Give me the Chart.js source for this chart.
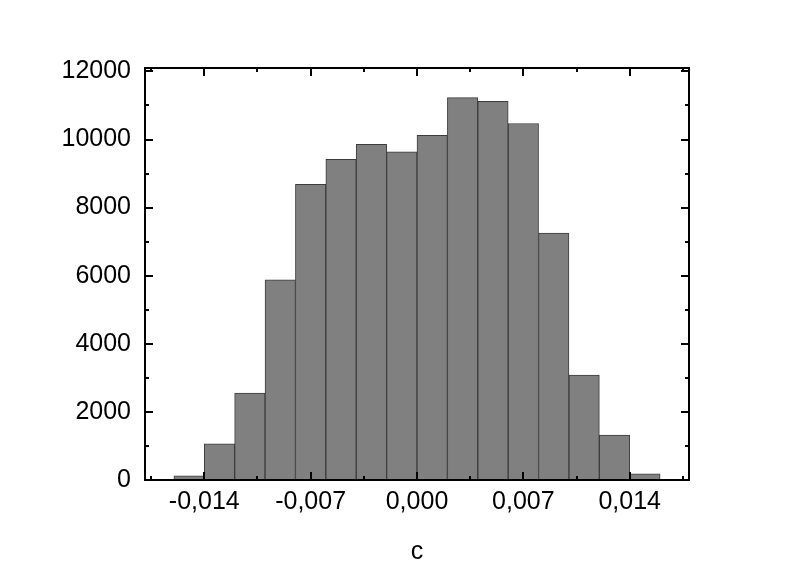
<!DOCTYPE html>
<html>
<head>
<meta charset="utf-8">
<script src="https://cdn.jsdelivr.net/npm/chart.js@4.4.1/dist/chart.umd.min.js"></script>
<style>
  html, body { margin: 0; padding: 0; background: #ffffff; }
  #wrap { width: 801px; height: 576px; }
</style>
</head>
<body>
<div id="wrap"><canvas id="c" width="801" height="576"></canvas></div>
<script>
// ---- data ----
const binCenters = [-0.015, -0.013, -0.011, -0.009, -0.007, -0.005, -0.003, -0.001,
                     0.001,  0.003,  0.005,  0.007,  0.009,  0.011,  0.013,  0.015];
const counts = [125, 1060, 2550, 5880, 8680, 9420, 9860, 9640,
                10120, 11230, 11120, 10470, 7250, 3080, 1320, 180];
const xMajorTicks = [-0.014, -0.007, 0.000, 0.007, 0.014];
const xMinorTicks = [-0.0175, -0.0105, -0.0035, 0.0035, 0.0105, 0.0175];
const yMajorTicks = [0, 2000, 4000, 6000, 8000, 10000, 12000];
const yMinorTicks = [1000, 3000, 5000, 7000, 9000, 11000];
const xTitle = 'c';

const FONT = { family: '"Liberation Sans", Arial, sans-serif', size: 25 };

const frameTicks = {
  id: 'frameTicks',
  afterDatasetsDraw(chart) {
    const { ctx, chartArea: { left, right, top, bottom }, scales: { x, y } } = chart;
    ctx.save();
    ctx.strokeStyle = '#000';
    ctx.lineWidth = 2;
    ctx.beginPath();
    const xt = (v, len) => {
      const p = Math.round(x.getPixelForValue(v));
      ctx.moveTo(p, bottom); ctx.lineTo(p, bottom - len);
      ctx.moveTo(p, top); ctx.lineTo(p, top + len);
    };
    const yt = (v, len) => {
      const p = Math.round(y.getPixelForValue(v));
      ctx.moveTo(left, p); ctx.lineTo(left + len, p);
      ctx.moveTo(right, p); ctx.lineTo(right - len, p);
    };
    xMajorTicks.forEach(v => xt(v, 8));
    xMinorTicks.forEach(v => xt(v, 4));
    yMajorTicks.forEach(v => yt(v, 8));
    yMinorTicks.forEach(v => yt(v, 4));
    ctx.stroke();
    ctx.strokeRect(left, top, right - left, bottom - top);
    ctx.restore();
  }
};

new Chart(document.getElementById('c'), {
  type: 'bar',
  data: {
    datasets: [{
      data: binCenters.map((b, i) => ({ x: b, y: counts[i] })),
      backgroundColor: '#808080',
      borderColor: '#3c3c3c',
      borderWidth: 1,
      barPercentage: 1.0,
      categoryPercentage: 1.0
    }]
  },
  options: {
    responsive: false,
    animation: false,
    events: [],
    layout: { padding: { left: 0, right: 112, top: 68, bottom: 0 } },
    plugins: { legend: { display: false }, tooltip: { enabled: false } },
    scales: {
      x: {
        type: 'linear',
        offset: false,
        min: -0.0179,
        max: 0.0179,
        afterBuildTicks: s => { s.ticks = xMajorTicks.map(v => ({ value: v })); },
        afterFit: s => { s.height = 96; },
        grid: { display: false, drawTicks: false },
        border: { display: false },
        ticks: {
          color: '#000',
          font: FONT,
          padding: 7,
          maxRotation: 0,
          autoSkip: false,
          callback: v => Number(v).toFixed(3).replace('.', ',')
        },
        title: {
          display: true,
          text: xTitle,
          color: '#000',
          font: FONT,
          padding: { top: 0, bottom: 9 }
        }
      },
      y: {
        type: 'linear',
        min: 0,
        max: 12100,
        afterBuildTicks: s => { s.ticks = yMajorTicks.map(v => ({ value: v })); },
        afterFit: s => { s.width = 145; },
        grid: { display: false, drawTicks: false },
        border: { display: false },
        ticks: {
          color: '#000',
          font: FONT,
          padding: 14,
          callback: v => String(v)
        }
      }
    }
  },
  plugins: [frameTicks]
});
</script>
</body>
</html>
